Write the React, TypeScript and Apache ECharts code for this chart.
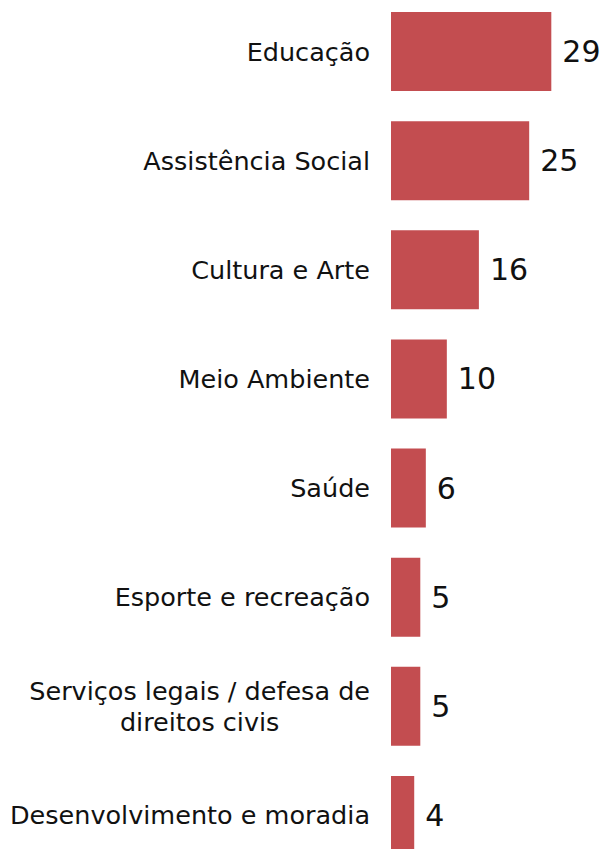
import React, { useEffect, useRef } from "react";
import * as echarts from "echarts";

const categories = [
  "Educação",
  "Assistência Social",
  "Cultura e Arte",
  "Meio Ambiente",
  "Saúde",
  "Esporte e recreação",
  "Serviços legais / defesa de\ndireitos civis",
  "Desenvolvimento e moradia",
];
const values = [29, 25, 15.9, 10.1, 6.3, 5.3, 5.3, 4.2];

export default function App() {
  const ref = useRef<HTMLDivElement>(null);
  useEffect(() => {
    if (!ref.current) return;
    const chart = echarts.init(ref.current, null, { renderer: "svg" });
    chart.setOption({
      animation: false,
      grid: { left: 391, right: 14, top: 1, height: 873 },
      xAxis: { type: "value", min: 0, max: 36, show: false },
      yAxis: {
        type: "category",
        inverse: true,
        data: categories,
        axisLine: { show: false },
        axisTick: { show: false },
        splitLine: { show: false },
        axisLabel: {
          margin: 21,
          color: "#111",
          fontFamily: "DejaVu Sans",
          fontSize: 25.5,
          lineHeight: 31,
          formatter: (v: string) =>
            v
              .split("\n")
              .map((l) => `{a|${l}}`)
              .join("\n"),
          rich: {
            a: {
              align: "center",
              fontFamily: "DejaVu Sans",
              fontSize: 25.5,
              lineHeight: 31,
              color: "#111",
            },
          },
        },
      },
      series: [
        {
          type: "bar",
          data: values,
          barWidth: 79,
          itemStyle: { color: "#C34D50" },
          label: {
            show: true,
            position: "right",
            distance: 11,
            color: "#111",
            fontFamily: "DejaVu Sans",
            fontSize: 30,
            formatter: (p: any) => String(Math.round(p.value)),
          },
        },
      ],
    });
    return () => chart.dispose();
  }, []);
  return (
    <div
      style={{
        position: "fixed",
        left: 0,
        top: 0,
        width: 604,
        height: 849,
        overflow: "hidden",
        background: "#fff",
      }}
    >
      <div
        ref={ref}
        style={{ position: "absolute", left: 0, top: -4, width: 604, height: 880 }}
      />
    </div>
  );
}
